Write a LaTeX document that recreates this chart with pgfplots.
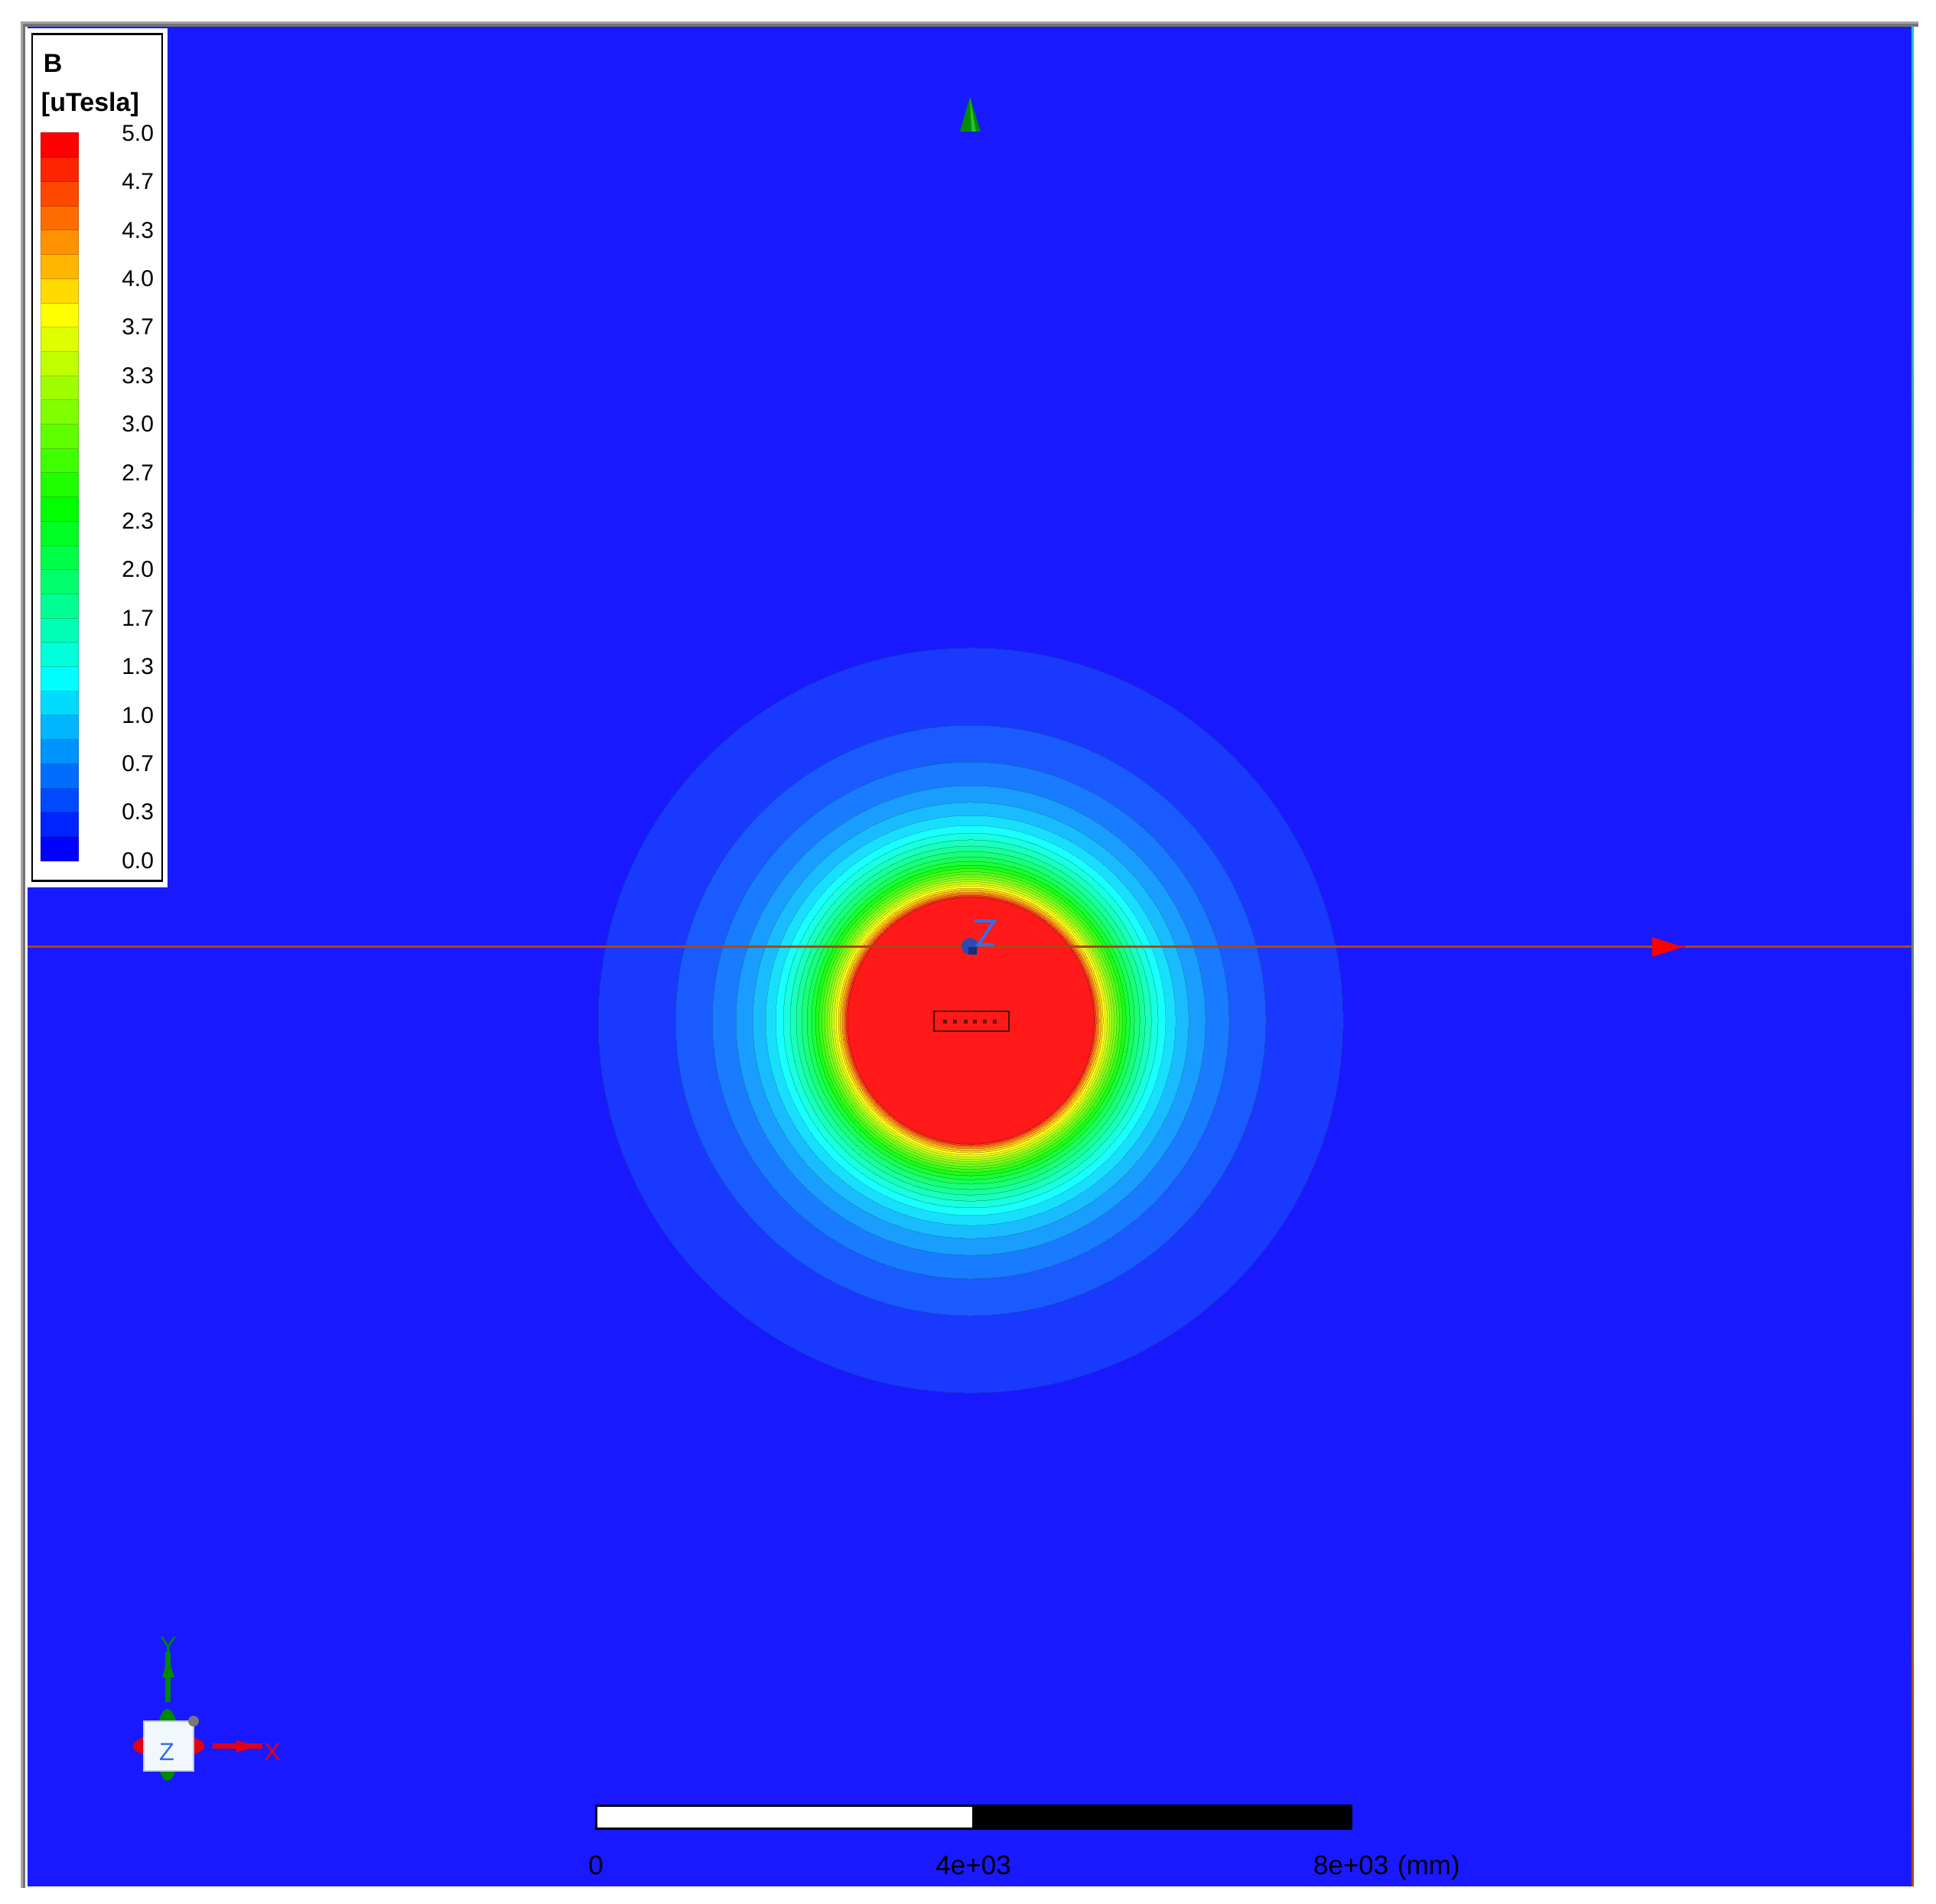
\documentclass[border=0pt]{standalone}
\usepackage{pgfplots}
\pgfplotsset{compat=1.18}
\usepackage{pgfplotstable}
\usepackage{fontspec}
\setmainfont{Liberation Sans}

\definecolor{bgblue}{RGB}{25,25,255}
\definecolor{lineb}{RGB}{175,70,20}
\definecolor{edgecyan}{RGB}{20,200,205}
\definecolor{framegray}{RGB}{165,165,165}
\definecolor{framedark}{RGB}{115,115,115}
\definecolor{conegreen}{RGB}{0,140,0}
\definecolor{conegreenL}{RGB}{45,190,45}
\definecolor{zblue}{RGB}{55,110,230}
\definecolor{blobblue}{RGB}{45,75,175}
\definecolor{blobdark}{RGB}{25,45,120}
\definecolor{rectbrown}{RGB}{70,20,0}
\definecolor{tred}{RGB}{225,0,20}
\definecolor{tgreen}{RGB}{0,135,0}
\definecolor{boxfill}{RGB}{240,248,252}
\definecolor{boxedge}{RGB}{190,200,210}
\definecolor{ballgray}{RGB}{120,120,120}

% field colours as rendered (slightly washed) and legend colours
\pgfplotsset{
  colormap={fieldmap}{rgb255=(25,25,255) rgb255=(25,57,255) rgb255=(25,91,255)
    rgb255=(25,123,255) rgb255=(25,157,255) rgb255=(25,189,255) rgb255=(25,223,255)
    rgb255=(25,255,255) rgb255=(25,255,223) rgb255=(25,255,189) rgb255=(25,255,157)
    rgb255=(25,255,123) rgb255=(25,255,91) rgb255=(25,255,57) rgb255=(25,255,25)
    rgb255=(54,255,25) rgb255=(83,255,25) rgb255=(112,255,25) rgb255=(140,255,25)
    rgb255=(168,255,25) rgb255=(197,255,25) rgb255=(226,255,25) rgb255=(255,255,25)
    rgb255=(255,223,25) rgb255=(255,189,25) rgb255=(255,157,25) rgb255=(255,123,25)
    rgb255=(255,91,25) rgb255=(255,57,25) rgb255=(255,25,25)},
  colormap={legendmap}{rgb255=(0,0,255) rgb255=(0,36,255) rgb255=(0,73,255)
    rgb255=(0,109,255) rgb255=(0,146,255) rgb255=(0,182,255) rgb255=(0,219,255)
    rgb255=(0,255,255) rgb255=(0,255,219) rgb255=(0,255,182) rgb255=(0,255,146)
    rgb255=(0,255,109) rgb255=(0,255,73) rgb255=(0,255,36) rgb255=(0,255,0)
    rgb255=(32,255,0) rgb255=(64,255,0) rgb255=(96,255,0) rgb255=(128,255,0)
    rgb255=(159,255,0) rgb255=(191,255,0) rgb255=(223,255,0) rgb255=(255,255,0)
    rgb255=(255,219,0) rgb255=(255,182,0) rgb255=(255,146,0) rgb255=(255,109,0)
    rgb255=(255,73,0) rgb255=(255,36,0) rgb255=(255,0,0)},
  fieldaxis/.style={
    at={(0,0)}, anchor=south west,
    width=492.6pt, height=486.2pt, scale only axis,
    xmin=-6021, xmax=13938, ymin=-9173, ymax=10527,
    enlargelimits=false, hide axis, clip=false},
}

% contour bands: outer radius (mm) of each band, c = legend level index
\pgfplotstableread{
x y r c
3971 0 3947 1
3971 0 3128 2
3971 0 2739 3
3971 0 2488 4
3971 0 2310 5
3971 0 2172 6
3971 0 2066 7
3971 0 1985 8
3971 0 1913 9
3971 0 1848 10
3971 0 1791 11
3971 0 1734 12
3971 0 1686 13
3971 0 1645 14
3971 0 1609 15
3971 0 1576 16
3971 0 1548 17
3971 0 1519 18
3971 0 1495 19
3971 0 1471 20
3971 0 1447 21
3971 0 1426 22
3971 0 1402 23
3971 0 1382 24
3971 0 1361 25
3971 0 1345 26
3971 0 1329 27
3971 0 1317 28
3971 0 1305 29
}\rings

\pgfplotstableread{
x y c
0.5 0.0833 0
0.5 0.2500 1
0.5 0.4167 2
0.5 0.5833 3
0.5 0.7500 4
0.5 0.9167 5
0.5 1.0833 6
0.5 1.2500 7
0.5 1.4167 8
0.5 1.5833 9
0.5 1.7500 10
0.5 1.9167 11
0.5 2.0833 12
0.5 2.2500 13
0.5 2.4167 14
0.5 2.5833 15
0.5 2.7500 16
0.5 2.9167 17
0.5 3.0833 18
0.5 3.2500 19
0.5 3.4167 20
0.5 3.5833 21
0.5 3.7500 22
0.5 3.9167 23
0.5 4.0833 24
0.5 4.2500 25
0.5 4.4167 26
0.5 4.5833 27
0.5 4.7500 28
0.5 4.9167 29
}\legendblocks

\tikzset{px/.style={shift={(-7.2pt,493.2pt)},x=0.2pt,y=-0.2pt}}
\newcommand\bfont{\fontsize{6.8}{7.5}\selectfont\bfseries}
\newcommand\lfont{\fontsize{6}{7}\selectfont}
\newcommand\sfont{\fontsize{7}{8}\selectfont}
\newcommand\tfont{\fontsize{6.5}{7}\selectfont}

\begin{document}
\begin{tikzpicture}
\useasboundingbox (-7.2pt,-4.6pt) rectangle (499pt,493.2pt);
\fill[white] (-7.2pt,-4.6pt) rectangle (499pt,493.2pt);
\begin{scope}[px]
  \fill[bgblue] (36,35) rectangle (2499,2466);
\end{scope}

\begin{axis}[fieldaxis, colormap name=fieldmap, point meta min=0, point meta max=29]
  \addplot[scatter, only marks, mark=*, point meta=explicit,
    visualization depends on={0.02468*\thisrow{r} \as \rad},
    scatter/@pre marker code/.append style={/tikz/mark size=\rad},
    mark options={line width=0pt}]
    table[x=x, y=y, meta=c] {\rings};
  % scale bar (mm)
  \addplot[fill=white, draw=black, line width=0.6pt] coordinates
    {(0,-8322) (4000,-8322) (4000,-8558) (0,-8558)} -- cycle;
  \addplot[fill=black, draw=black, line width=0.6pt] coordinates
    {(4000,-8322) (8000,-8322) (8000,-8558) (4000,-8558)} -- cycle;
  \node[anchor=base, inner sep=0pt, font=\sfont] at (axis cs:0,-9044) {0};
  \node[anchor=base, inner sep=0pt, font=\sfont] at (axis cs:4000,-9044) {4e+03};
  \node[anchor=base, inner sep=0pt, font=\sfont] (e8) at (axis cs:8000,-9044) {8e+03};
  \node[anchor=base west, inner sep=0pt, font=\sfont] at (e8.base east) {\ (mm)};
\end{axis}

% same frame again, so the cut line lies above the contour bands
\begin{axis}[fieldaxis]
  \addplot[draw=lineb, line width=0.55pt] coordinates {(-6021,780) (13938,780)};
\end{axis}

\begin{scope}[px]
  % window frame
  \fill[framegray] (27,28.5) rectangle (2508,35);
  \fill[framedark] (30,31.5) rectangle (2508,35);
  \fill[framegray] (27,28.5) rectangle (33,2468);
  \fill[framedark] (30,31.5) rectangle (33,2468);
  \fill[white] (33,35) rectangle (36,2466);
  \shade[top color=edgecyan, bottom color=lineb] (2499,35) rectangle (2502,2466);
  % legend box
  \fill[white] (36,37) rectangle (219,1160);
  \draw[black, line width=0.5pt] (42,44.5) rectangle (212,1151.5);
  \node[anchor=base west, inner sep=0pt, font=\bfont] at (56,95) {B};
  \node[anchor=base west, inner sep=0pt, font=\bfont] at (53,146) {[uTesla]};
  % green cone (top)
  \fill[conegreen] (1268,127) -- (1282,172) -- (1255,172) -- cycle;
  \fill[conegreenL] (1268,127) -- (1276,172) -- (1270,172) -- cycle;
  % red arrow head on cut line
  \fill[red] (2160,1225) -- (2160,1251) -- (2200,1238) -- cycle;
  \fill[red] (2195,1236.5) rectangle (2204,1239.5);
  % coil marker
  \draw[rectbrown, line width=0.45pt] (1221,1322) rectangle (1319,1348);
  \foreach \xx in {1236,1249,1263,1275,1288,1301}
    {\fill[rectbrown!80!red] (\xx-2.5,1333.5) rectangle (\xx+2.5,1338.5);}
  % origin glyph
  \fill[blobblue] (1268,1237) circle[radius=11];
  \fill[blobdark] (1266,1238) rectangle (1277,1248);
  \draw[zblue, line width=0.8pt] (1274,1204) -- (1300,1204) -- (1279,1235) -- (1300,1235);
  % triad
  \fill[tgreen] (219,2281) ellipse[x radius=15, y radius=47];
  \fill[tred] (220.5,2282.5) ellipse[x radius=47, y radius=15.5];
  \filldraw[fill=boxfill, draw=boxedge, line width=0.4pt] (188,2250) rectangle (253,2315);
  \node[inner sep=0pt, font=\tfont, text=zblue] at (218,2290) {Z};
  \fill[ballgray] (253,2250) circle[radius=7];
  \fill[tgreen] (216.5,2160) rectangle (223.5,2225);
  \fill[tgreen] (220,2166) -- (228,2193) -- (212,2193) -- cycle;
  \node[inner sep=0pt, font=\tfont, text=tgreen] at (220,2151) {Y};
  \fill[tred] (278,2279.5) rectangle (343,2286.5);
  \fill[tred] (309,2275) -- (309,2291) -- (336,2283) -- cycle;
  \node[inner sep=0pt, font=\tfont, text=tred] at (356,2290) {X};
\end{scope}

% legend colour bar
\begin{axis}[
  at={(3.4pt,268.2pt)}, anchor=south west,
  width=9.8pt, height=190.2pt, scale only axis,
  xmin=0, xmax=1, ymin=0, ymax=5, enlargelimits=false, clip=false,
  axis line style={draw=none}, major tick length=0pt, xtick=\empty,
  ytick={0,0.3333,0.6667,1,1.3333,1.6667,2,2.3333,2.6667,3,3.3333,3.6667,4,4.3333,4.6667,5},
  yticklabels={0.0,0.3,0.7,1.0,1.3,1.7,2.0,2.3,2.7,3.0,3.3,3.7,4.0,4.3,4.7,5.0},
  yticklabel pos=right,
  yticklabel style={anchor=east, inner sep=0pt, xshift=20pt, font=\lfont},
  colormap name=legendmap, point meta min=0, point meta max=29,
]
  \addplot[scatter, only marks, mark=square*, mark size=3.2pt, point meta=explicit,
    mark options={xscale=1.531, line width=0pt}]
    table[x=x, y=y, meta=c] {\legendblocks};
\end{axis}
\end{tikzpicture}
\end{document}
